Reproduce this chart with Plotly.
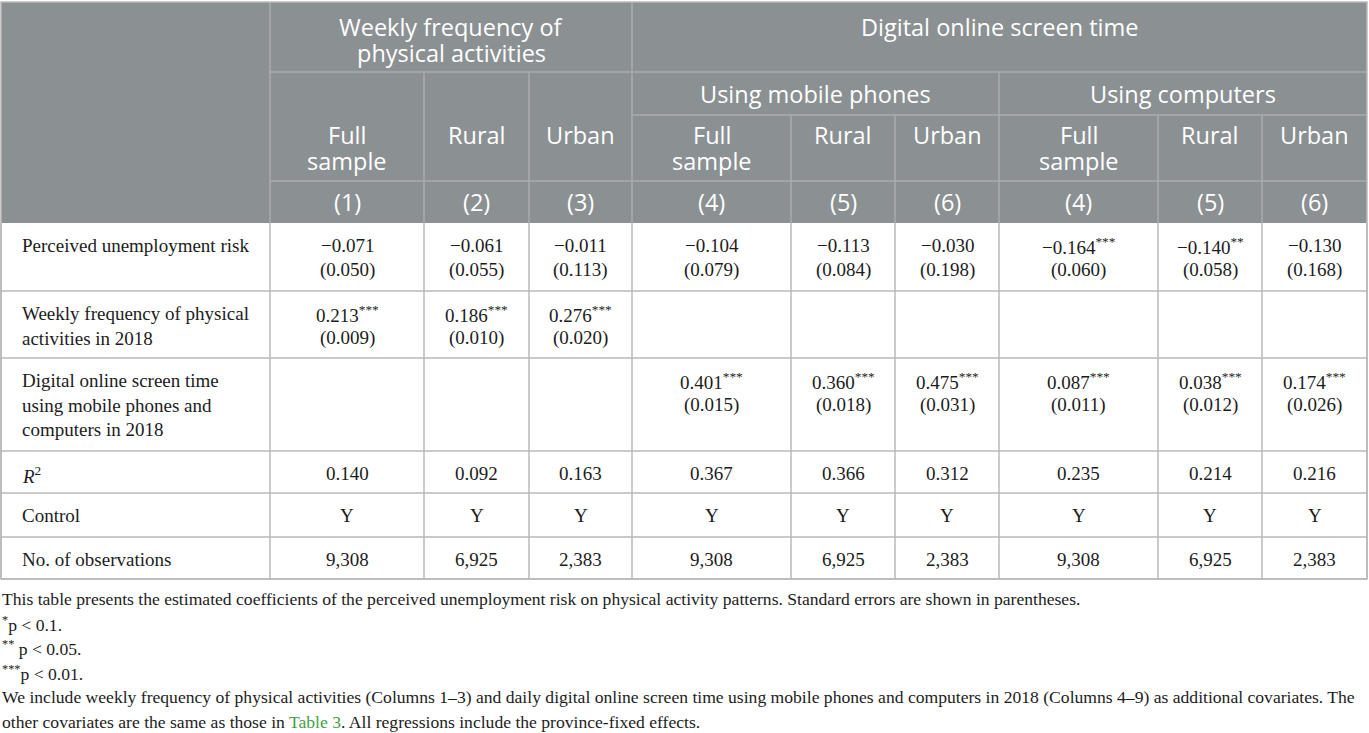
import plotly.graph_objects as go

# --- table content ---
group_titles = ["Weekly frequency of<br>physical activities", "Digital online screen time"]
device_titles = ["Using mobile phones", "Using computers"]
sample_names = ["Full<br>sample", "Rural", "Urban"] * 3
col_numbers = ["(1)", "(2)", "(3)", "(4)", "(5)", "(6)", "(4)", "(5)", "(6)"]

row_labels = ["Perceived unemployment risk",
              "Weekly frequency of physical<br>activities in 2018",
              "Digital online screen time<br>using mobile phones and<br>computers in 2018",
              "<i>R</i><sup>2</sup>",
              "Control",
              "No. of observations"]

risk_coef = [-0.071, -0.061, -0.011, -0.104, -0.113, -0.030, -0.164, -0.140, -0.130]
risk_se = [0.050, 0.055, 0.113, 0.079, 0.084, 0.198, 0.060, 0.058, 0.168]
risk_stars = ["", "", "", "", "", "", "***", "**", ""]

pa_coef = [0.213, 0.186, 0.276]
pa_se = [0.009, 0.010, 0.020]
pa_stars = ["***", "***", "***"]

screen_coef = [0.401, 0.360, 0.475, 0.087, 0.038, 0.174]
screen_se = [0.015, 0.018, 0.031, 0.011, 0.012, 0.026]
screen_stars = ["***"] * 6

r_squared = [0.140, 0.092, 0.163, 0.367, 0.366, 0.312, 0.235, 0.214, 0.216]
control = ["Y"] * 9
n_obs = [9308, 6925, 2383, 9308, 6925, 2383, 9308, 6925, 2383]

notes = [
    "This table presents the estimated coefficients of the perceived unemployment risk on physical activity patterns. Standard errors are shown in parentheses.",
    "<sup>*</sup>p < 0.1.",
    "<sup>**</sup> p < 0.05.",
    "<sup>***</sup>p < 0.01.",
    "We include weekly frequency of physical activities (Columns 1–3) and daily digital online screen time using mobile phones and computers in 2018 (Columns 4–9) as additional covariates. The",
    "other covariates are the same as those in <span style='color:#3f9f3f'>Table 3</span>. All regressions include the province-fixed effects.",
]

# --- geometry (pixels) ---
W, H = 1369, 733
col_x = [1, 270, 424, 529, 632, 791, 895, 999, 1158, 1262, 1367]
head_y = [2, 72, 115, 181, 223]
body_y = [223, 291, 358, 451, 493, 537, 579]
note_y0, note_dy = 599, 24.6

HEAD_BG = "#8b9093"
HEAD_LINE = "#a9adb0"
GRID = "#b9b9b9"
TXT = "#1c1c1c"
SANS = "Open Sans, Lato, sans-serif"
SERIF = "Liberation Serif, Times New Roman, serif"
HEAD_SIZE = 23.5
HEAD_LEAD = 25.5
BODY_SIZE = 19
BODY_LEAD = 24.5
NOTE_SIZE = 17.6


def fmt(v):
    return f"{v:.3f}".replace("-", "\u2212")


def coef_cells(coefs, ses, stars):
    return [[fmt(c) + (f"<sup>{st}</sup>" if st else ""), f"({s:.3f})"]
            for c, s, st in zip(coefs, ses, stars)]


# body cell lines per row, 9 columns each
body = [
    coef_cells(risk_coef, risk_se, risk_stars),
    coef_cells(pa_coef, pa_se, pa_stars) + [[]] * 6,
    [[]] * 3 + coef_cells(screen_coef, screen_se, screen_stars),
    [[f"{v:.3f}"] for v in r_squared],
    [[v] for v in control],
    [[f"{n:,}"] for n in n_obs],
]

fig = go.Figure()
shapes = []
ann = []


def line(x0, y0, x1, y1, color, w):
    shapes.append(dict(type="line", xref="x", yref="y", x0=x0, y0=y0, x1=x1, y1=y1,
                       line=dict(color=color, width=w)))


def text(x, y, s, font, size, color, xanchor="center", yanchor="middle", align="center"):
    ann.append(dict(x=x, y=y, xref="x", yref="y", text=s, showarrow=False,
                    xanchor=xanchor, yanchor=yanchor, align=align,
                    font=dict(family=font, size=size, color=color)))


def head_text(cx, y_first, s):
    # one annotation per line so the header leading can be tighter than plotly's default
    for k, part in enumerate(s.split("<br>")):
        text(cx, y_first + k * HEAD_LEAD, part, SANS, HEAD_SIZE, "white")


# header background
shapes.append(dict(type="rect", xref="x", yref="y", x0=col_x[0], x1=col_x[-1],
                   y0=head_y[0], y1=head_y[-1], fillcolor=HEAD_BG, line=dict(width=0), layer="below"))

# header lines
line(col_x[1], head_y[1], col_x[-1], head_y[1], HEAD_LINE, 1.5)
line(col_x[4], head_y[2], col_x[-1], head_y[2], HEAD_LINE, 1.5)
line(col_x[1], head_y[3], col_x[-1], head_y[3], HEAD_LINE, 1.5)
line(col_x[1], head_y[0], col_x[1], head_y[-1], HEAD_LINE, 1.5)
line(col_x[4], head_y[0], col_x[4], head_y[-1], HEAD_LINE, 1.5)
line(col_x[7], head_y[1], col_x[7], head_y[-1], HEAD_LINE, 1.5)
for i in (2, 3):
    line(col_x[i], head_y[1], col_x[i], head_y[-1], HEAD_LINE, 1.5)
for i in (5, 6, 8, 9):
    line(col_x[i], head_y[2], col_x[i], head_y[-1], HEAD_LINE, 1.5)

# body grid
for y in body_y[1:]:
    line(col_x[0], y, col_x[-1], y, GRID, 1.5)
for x in col_x:
    line(x, body_y[0], x, body_y[-1], GRID, 1.5)
# outer border
shapes.append(dict(type="rect", xref="x", yref="y", x0=col_x[0], x1=col_x[-1],
                   y0=head_y[0], y1=body_y[-1], line=dict(color=GRID, width=1.5)))

# header text
head_text((col_x[1] + col_x[4]) / 2, head_y[0] + 25, group_titles[0])
head_text((col_x[4] + col_x[-1]) / 2, head_y[0] + 25, group_titles[1])
head_text((col_x[4] + col_x[7]) / 2, (head_y[1] + head_y[2]) / 2, device_titles[0])
head_text((col_x[7] + col_x[-1]) / 2, (head_y[1] + head_y[2]) / 2, device_titles[1])
for j in range(9):
    cx = (col_x[j + 1] + col_x[j + 2]) / 2
    head_text(cx, head_y[2] + 20, sample_names[j])
    head_text(cx, (head_y[3] + head_y[4]) / 2, col_numbers[j])

# body text (labels left, numbers centred; each line placed on its own)
for r, label in enumerate(row_labels):
    first = body_y[r] + 22.5
    text(col_x[0] + 19, body_y[r] + 10, label, SERIF, BODY_SIZE, TXT,
         xanchor="left", yanchor="top", align="left")
    for j, cell in enumerate(body[r]):
        cx = (col_x[j + 1] + col_x[j + 2]) / 2
        for k, part in enumerate(cell):
            text(cx, first + k * BODY_LEAD, part, SERIF, BODY_SIZE, TXT)

# notes
for k, note in enumerate(notes):
    text(0, note_y0 + k * note_dy, note, SERIF, NOTE_SIZE, TXT, xanchor="left", align="left")

fig.update_layout(
    width=W, height=H,
    margin=dict(l=0, r=0, t=0, b=0),
    paper_bgcolor="white", plot_bgcolor="white",
    xaxis=dict(range=[0, W], visible=False, fixedrange=True),
    yaxis=dict(range=[H, 0], visible=False, fixedrange=True),
    shapes=shapes, annotations=ann, showlegend=False,
)

# drop the browser's default 8px page margin so the figure sits at the corner
fig.write_html("out.html", config={"displayModeBar": False},
               post_script="document.body.style.margin='0px';document.body.style.overflow='hidden';")
